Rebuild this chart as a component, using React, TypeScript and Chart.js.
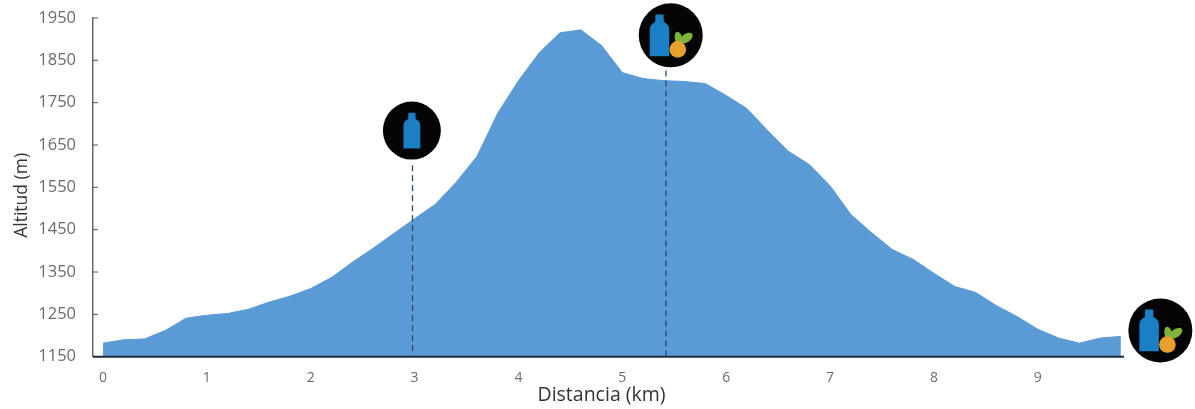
import React, { useEffect, useRef } from "react";
import { Chart, registerables } from "chart.js";

Chart.register(...registerables);

const distanceKm = [0,0.2,0.4,0.6,0.8,1,1.2,1.4,1.6,1.8,2,2.2,2.4,2.6,2.8,3,3.2,3.4,3.6,3.8,4,4.2,4.4,4.6,4.8,5,5.2,5.4,5.6,5.8,6,6.2,6.4,6.6,6.8,7,7.2,7.4,7.6,7.8,8,8.2,8.4,8.6,8.8,9,9.2,9.4,9.6,9.8];
const altitudeM = [1182,1190,1192,1212,1241,1248,1252,1262,1279,1293,1311,1337,1373,1406,1441,1476,1510,1562,1623,1725,1802,1868,1915,1922,1885,1821,1807,1802,1800,1795,1767,1736,1684,1635,1604,1554,1486,1443,1403,1380,1347,1316,1302,1271,1245,1215,1194,1182,1194,1198];
const xTicks = [0,1,2,3,4,5,6,7,8,9];
const yTicks = [1150,1250,1350,1450,1550,1650,1750,1850,1950];
const dropX = [2.98, 5.42];
const dropTop = [1602, 1826];
const dropBottom = [1150, 1150];
const iconX = [2.974, 5.466, 10.18];
const iconAlt = [1684, 1909, 1212];
const iconFruit = [false, true, true];
const iconRadius = [29, 32, 32];
const xTitle = "Distancia (km)";
const yTitle = "Altitud (m)";

function drawBottle(ctx: CanvasRenderingContext2D, cx: number, cy: number, s: number) {
  ctx.fillStyle = "#1b7fc6";
  ctx.beginPath();
  ctx.moveTo(cx - 0.12 * s, cy - 0.62 * s);
  ctx.lineTo(cx + 0.12 * s, cy - 0.62 * s);
  ctx.lineTo(cx + 0.13 * s, cy - 0.4 * s);
  ctx.quadraticCurveTo(cx + 0.29 * s, cy - 0.32 * s, cx + 0.29 * s, cy - 0.18 * s);
  ctx.lineTo(cx + 0.29 * s, cy + 0.62 * s);
  ctx.lineTo(cx - 0.29 * s, cy + 0.62 * s);
  ctx.lineTo(cx - 0.29 * s, cy - 0.18 * s);
  ctx.quadraticCurveTo(cx - 0.29 * s, cy - 0.32 * s, cx - 0.13 * s, cy - 0.4 * s);
  ctx.closePath();
  ctx.fill();
}

function drawFruit(ctx: CanvasRenderingContext2D, cx: number, cy: number, r: number) {
  ctx.fillStyle = "#7fb23a";
  ctx.beginPath();
  ctx.ellipse(cx + r * 0.1, cy - r * 1.3, r * 0.45, r * 0.85, -0.2, 0, Math.PI * 2);
  ctx.fill();
  ctx.beginPath();
  ctx.ellipse(cx + r * 1.0, cy - r * 1.35, r * 0.9, r * 0.5, -0.6, 0, Math.PI * 2);
  ctx.fill();
  ctx.fillStyle = "#e99f2b";
  ctx.beginPath();
  ctx.arc(cx, cy, r, 0, Math.PI * 2);
  ctx.fill();
}

const overlayPlugin = {
  id: "overlay",
  afterDatasetsDraw(chart: any) {
    const { ctx, scales } = chart;
    const xs = scales.x;
    const ys = scales.y;
    ctx.save();
    // inner tick marks of the altitude axis
    ctx.strokeStyle = "#555555";
    ctx.lineWidth = 1;
    yTicks.forEach((t) => {
      const py = ys.getPixelForValue(t);
      ctx.beginPath();
      ctx.moveTo(xs.left, py);
      ctx.lineTo(xs.left + 5, py);
      ctx.stroke();
    });
    // baseline
    ctx.strokeStyle = "#1c2a3a";
    ctx.lineWidth = 2;
    ctx.beginPath();
    ctx.moveTo(xs.left, ys.bottom);
    ctx.lineTo(xs.right, ys.bottom);
    ctx.stroke();
    // drop lines
    ctx.strokeStyle = "#27486e";
    ctx.lineWidth = 1.3;
    ctx.setLineDash([6, 4]);
    dropX.forEach((x, i) => {
      const px = xs.getPixelForValue(x);
      ctx.beginPath();
      ctx.moveTo(px, ys.getPixelForValue(dropTop[i]));
      ctx.lineTo(px, ys.getPixelForValue(dropBottom[i]));
      ctx.stroke();
    });
    ctx.setLineDash([]);
    // icons
    iconX.forEach((x, i) => {
      const cx = xs.getPixelForValue(x);
      const cy = ys.getPixelForValue(iconAlt[i]);
      const r = iconRadius[i];
      ctx.fillStyle = "#050505";
      ctx.beginPath();
      ctx.arc(cx, cy, r, 0, Math.PI * 2);
      ctx.fill();
      if (iconFruit[i]) {
        drawBottle(ctx, cx - 0.35 * r, cy, r * 1.05);
        drawFruit(ctx, cx + 0.22 * r, cy + 0.44 * r, r * 0.26);
      } else {
        drawBottle(ctx, cx, cy, r);
      }
    });
    // axis titles
    ctx.fillStyle = "#333333";
    ctx.textAlign = "center";
    ctx.textBaseline = "middle";
    ctx.font = "19.5px 'Open Sans'";
    ctx.fillText(xTitle, xs.getPixelForValue(4.8), ys.bottom + 39);
    ctx.translate(22, ys.getPixelForValue(1531));
    ctx.rotate(-Math.PI / 2);
    ctx.font = "17.5px 'Open Sans'";
    ctx.fillText(yTitle, 0, 0);
    ctx.restore();
  },
};

const noScalePadding = (axis: any) => {
  axis.paddingTop = 0;
  axis.paddingBottom = 0;
  axis.paddingLeft = 0;
  axis.paddingRight = 0;
};

export default function App() {
  const ref = useRef<HTMLCanvasElement | null>(null);
  useEffect(() => {
    if (!ref.current) return;
    const chart = new Chart(ref.current, {
      type: "line",
      data: {
        labels: distanceKm,
        datasets: [
          {
            data: distanceKm.map((d, i) => ({ x: d, y: altitudeM[i] })),
            fill: "start",
            backgroundColor: "#5b9bd5",
            borderColor: "#5b9bd5",
            borderWidth: 1,
            pointRadius: 0,
            tension: 0,
          },
        ],
      },
      options: {
        responsive: false,
        animation: false,
        layout: { padding: { left: 0, right: 71, top: 18, bottom: 0 } },
        plugins: { legend: { display: false }, tooltip: { enabled: false } },
        scales: {
          x: {
            type: "linear",
            min: -0.096,
            max: 9.83,
            afterBuildTicks: (axis: any) => {
              axis.ticks = xTicks.map((value) => ({ value }));
            },
            afterFit: (axis: any) => {
              axis.height = 52.3;
              noScalePadding(axis);
            },
            grid: { display: false, drawTicks: false },
            border: { display: false },
            ticks: {
              autoSkip: false,
              maxRotation: 0,
              padding: 13,
              color: "#6b6b6b",
              font: { family: "Open Sans", size: 14 },
              callback: (v: any) => String(v),
            },
          },
          y: {
            min: 1150,
            max: 1950,
            afterBuildTicks: (axis: any) => {
              axis.ticks = yTicks.map((value) => ({ value }));
            },
            afterFit: (axis: any) => {
              axis.width = 93;
              noScalePadding(axis);
            },
            grid: { display: false, drawTicks: false },
            border: { display: true, color: "#666666", width: 1.5 },
            ticks: {
              autoSkip: false,
              padding: 17,
              color: "#6b6b6b",
              font: { family: "Open Sans", size: 16.5 },
              callback: (v: any) => String(v),
            },
          },
        },
      },
      plugins: [overlayPlugin],
    } as any);
    return () => chart.destroy();
  }, []);
  return (
    <div style={{ position: "absolute", left: 0, top: 0, width: 1195, height: 409, background: "#ffffff" }}>
      <canvas ref={ref} width={1195} height={409} style={{ display: "block" }} />
    </div>
  );
}
